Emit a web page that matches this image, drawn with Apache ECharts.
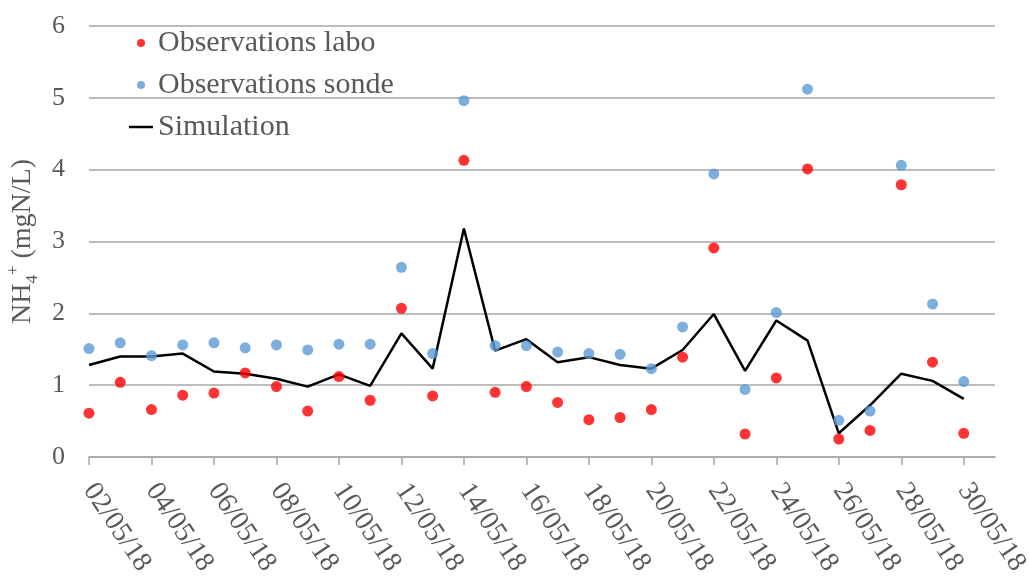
<!DOCTYPE html>
<html>
<head>
<meta charset="utf-8">
<script src="https://cdn.jsdelivr.net/npm/echarts@6/dist/echarts.min.js"></script>
<style>
  html, body { margin: 0; padding: 0; background: #fff; }
  #chart { width: 1029px; height: 587px; }
</style>
</head>
<body>
<div id="chart"></div>
<script>
var dates = ['02/05/18','03/05/18','04/05/18','05/05/18','06/05/18','07/05/18','08/05/18','09/05/18',
             '10/05/18','11/05/18','12/05/18','13/05/18','14/05/18','15/05/18','16/05/18','17/05/18',
             '18/05/18','19/05/18','20/05/18','21/05/18','22/05/18','23/05/18','24/05/18','25/05/18',
             '26/05/18','27/05/18','28/05/18','29/05/18','30/05/18','31/05/18'];

var labo = [0.61, 1.04, 0.66, 0.86, 0.89, 1.17, 0.98, 0.64, 1.12, 0.79,
            2.07, 0.85, 4.13, 0.90, 0.98, 0.76, 0.52, 0.55, 0.66, 1.39,
            2.91, 0.32, 1.10, 4.01, 0.25, 0.37, 3.79, 1.32, 0.33];

var sonde = [1.51, 1.59, 1.41, 1.56, 1.59, 1.52, 1.56, 1.49, 1.57, 1.57,
             2.64, 1.44, 4.96, 1.55, 1.55, 1.46, 1.44, 1.43, 1.23, 1.81,
             3.94, 0.94, 2.01, 5.12, 0.51, 0.64, 4.06, 2.13, 1.05];

var simulation = [1.28, 1.40, 1.40, 1.44, 1.19, 1.16, 1.09, 0.98, 1.15, 0.99,
                  1.72, 1.23, 3.18, 1.48, 1.64, 1.32, 1.39, 1.28, 1.23, 1.49,
                  1.99, 1.20, 1.90, 1.62, 0.33, 0.72, 1.16, 1.06, 0.81];

var font = 'Liberation Serif';
var grey = '#595959';

var chart = echarts.init(document.getElementById('chart'));
chart.setOption({
    animation: false,
    textStyle: { fontFamily: font },
    grid: {
        left: 89,
        right: 34,
        top: 26,
        bottom: 130,
        outerBoundsMode: 'none'
    },
    legend: {
        orient: 'vertical',
        left: 124,
        top: 23,
        itemWidth: 24,
        itemHeight: 8,
        itemGap: 12,
        textStyle: { fontFamily: font, fontSize: 30, color: grey },
        data: [
            { name: 'Observations labo', icon: 'circle' },
            { name: 'Observations sonde', icon: 'circle' },
            { name: 'Simulation', icon: 'path://M0,0 L24,0 L24,2.5 L0,2.5 Z' }
        ]
    },
    xAxis: {
        type: 'category',
        boundaryGap: false,
        data: dates,
        axisLine: { lineStyle: { color: '#a6a6a6', width: 1.5 } },
        axisTick: {
            interval: 1,
            length: 8,
            lineStyle: { color: '#a6a6a6', width: 1.5 }
        },
        axisLabel: {
            interval: 1,
            rotate: -56,
            margin: 29,
            fontFamily: font,
            fontSize: 28,
            color: grey
        }
    },
    yAxis: {
        type: 'value',
        min: 0,
        max: 6,
        interval: 1,
        axisLine: { show: false },
        axisTick: { show: false },
        splitLine: { lineStyle: { color: '#a6a6a6', width: 1.5 } },
        axisLabel: {
            margin: 24,
            fontFamily: font,
            fontSize: 26,
            color: grey
        },
        name: '{n|NH}{sub|4}{sup|+}{n| (mgN/L)}',
        nameLocation: 'middle',
        nameRotate: 90,
        nameGap: 46,
        nameTextStyle: {
            rich: {
                n: { fontFamily: font, fontSize: 28, color: grey, lineHeight: 36 },
                sub: { fontFamily: font, fontSize: 17, color: grey, lineHeight: 36, verticalAlign: 'bottom' },
                sup: { fontFamily: font, fontSize: 17, color: grey, lineHeight: 36, verticalAlign: 'top' }
            }
        }
    },
    series: [
        {
            name: 'Observations labo',
            type: 'scatter',
            data: labo,
            symbolSize: 11,
            z: 3,
            itemStyle: { color: '#ff0000' }
        },
        {
            name: 'Observations sonde',
            type: 'scatter',
            data: sonde,
            symbolSize: 11,
            z: 3,
            itemStyle: { color: '#5b9bd5' }
        },
        {
            name: 'Simulation',
            type: 'line',
            data: simulation,
            showSymbol: false,
            symbol: 'none',
            z: 2,
            itemStyle: { color: '#000000' },
            lineStyle: { color: '#000000', width: 2.5 }
        }
    ]
});
</script>
</body>
</html>
